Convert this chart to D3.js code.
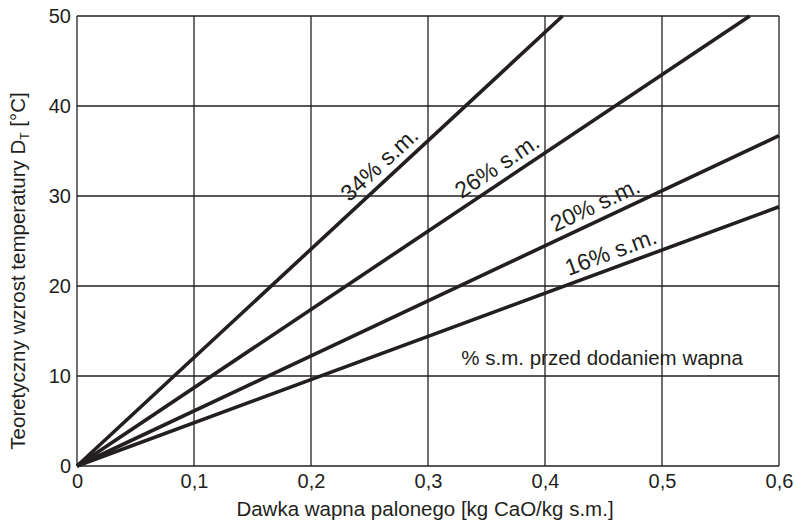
<!DOCTYPE html>
<html>
<head>
<meta charset="utf-8">
<script src="https://cdn.jsdelivr.net/npm/d3@7"></script>
<style>
body { margin: 0; background: #fff; }
text { font-family: "Liberation Sans", Arial, sans-serif; fill: #231f20; }
</style>
</head>
<body>
<svg width="797" height="522"></svg>
<script>
// axis ticks
const xTicks = [0, 0.1, 0.2, 0.3, 0.4, 0.5, 0.6];
const xTickLabels = ["0", "0,1", "0,2", "0,3", "0,4", "0,5", "0,6"];
const yTicks = [0, 10, 20, 30, 40, 50];

// series: each line from the origin to its end point
const seriesNames = ["34% s.m.", "26% s.m.", "20% s.m.", "16% s.m."];
const seriesX = [[0, 0.415], [0, 0.575], [0, 0.6], [0, 0.6]];
const seriesY = [[0, 50], [0, 50], [0, 36.7], [0, 28.8]];
const labelAt = [0.2376, 0.3325, 0.4114, 0.4225]; // x value where each label starts

const note = "% s.m. przed dodaniem wapna";

function makeChart() {
  const svg = d3.select("svg");
  const margin = {top: 16, left: 77, right: 18, bottom: 56};
  const w = 797, h = 522;
  const ink = "#231f20";

  const xScale = d3.scaleLinear().domain([0, 0.6]).range([margin.left, w - margin.right]);
  const yScale = d3.scaleLinear().domain([0, 50]).range([h - margin.bottom, margin.top]);

  // grid
  const grid = svg.append("g");
  grid.selectAll(".vx").data(xTicks).enter().append("line")
    .attr("x1", d => xScale(d)).attr("x2", d => xScale(d))
    .attr("y1", yScale(0)).attr("y2", yScale(50))
    .attr("stroke", ink).attr("stroke-width", 1.3);
  grid.selectAll(".hy").data(yTicks).enter().append("line")
    .attr("x1", xScale(0)).attr("x2", xScale(0.6))
    .attr("y1", d => yScale(d)).attr("y2", d => yScale(d))
    .attr("stroke", ink).attr("stroke-width", 1.3);

  // axes (labels only, grid draws the lines)
  const xAxis = d3.axisBottom(xScale).tickValues(xTicks)
    .tickFormat((d, i) => xTickLabels[i]).tickSize(0).tickPadding(8);
  const gx = svg.append("g").attr("transform", "translate(0," + yScale(0) + ")").call(xAxis);
  gx.select(".domain").remove();
  gx.selectAll("text").style("font-size", "20px").attr("fill", ink)
    .style("font-family", "'Liberation Sans', Arial, sans-serif");

  const yAxis = d3.axisLeft(yScale).tickValues(yTicks).tickSize(0).tickPadding(6);
  const gy = svg.append("g").attr("transform", "translate(" + xScale(0) + ",0)").call(yAxis);
  gy.select(".domain").remove();
  gy.selectAll("text").style("font-size", "20px").attr("fill", ink)
    .style("font-family", "'Liberation Sans', Arial, sans-serif");

  // data lines
  const line = d3.line().x(d => xScale(d[0])).y(d => yScale(d[1]));
  seriesNames.forEach((name, i) => {
    const pts = seriesX[i].map((x, j) => [x, seriesY[i][j]]);
    svg.append("path").datum(pts).attr("d", line)
      .attr("fill", "none").attr("stroke", ink).attr("stroke-width", 3.6);

    const slope = (seriesY[i][1] - seriesY[i][0]) / (seriesX[i][1] - seriesX[i][0]);
    const lx = labelAt[i], ly = slope * lx;
    const ang = Math.atan2(yScale(slope * 0.1) - yScale(0), xScale(0.1) - xScale(0)) * 180 / Math.PI;
    svg.append("text")
      .attr("transform", "translate(" + xScale(lx) + "," + yScale(ly) + ") rotate(" + ang + ")")
      .attr("dy", -8)
      .style("font-size", "23px")
      .text(name);
  });

  // note
  svg.append("text").attr("x", xScale(0.3285)).attr("y", yScale(11.2))
    .style("font-size", "20.5px").text(note);

  // axis titles
  svg.append("text").attr("x", (xScale(0) + xScale(0.6)) / 2 - 3).attr("y", 516)
    .attr("text-anchor", "middle").style("font-size", "20.5px")
    .text("Dawka wapna palonego [kg CaO/kg s.m.]");

  const yt = svg.append("text").attr("transform", "translate(25,271) rotate(-90)")
    .attr("text-anchor", "middle").style("font-size", "20.5px");
  yt.append("tspan").text("Teoretyczny wzrost temperatury D");
  yt.append("tspan").attr("dy", 4).style("font-size", "12px").text("T");
  yt.append("tspan").attr("dy", -4).text(" [°C]");
}

makeChart();
</script>
</body>
</html>
